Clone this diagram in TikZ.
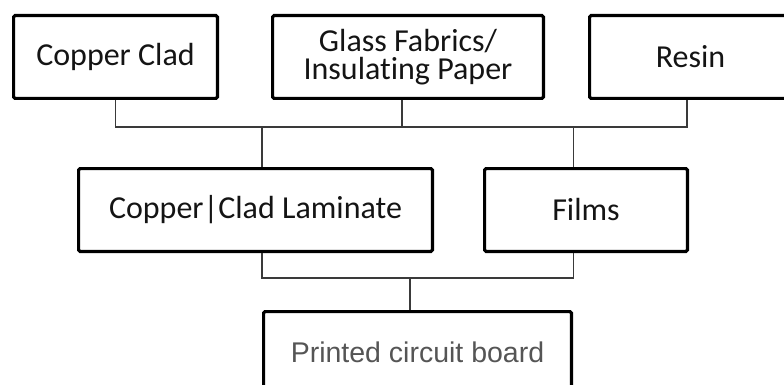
\documentclass[tikz,border=0pt]{standalone}
\usepackage{fontspec}
\setmainfont{Carlito}[Ligatures=NoCommon]
\newfontfamily\arialfont{Liberation Sans}
\usetikzlibrary{positioning}
\definecolor{wiregray}{HTML}{3A3A3A}
\definecolor{pcbgray}{HTML}{555555}
\tikzset{
      part/.style = { draw, line width=3.2pt, rounded corners=1.5pt, align=center,
                      inner sep=0pt, minimum height=82.8pt,
                      font=\fontsize{32}{28}\selectfont, text=black!92 },
   product/.style = { minimum height=80.8pt, text=pcbgray,
                      font=\arialfont\fontsize{28.5}{30}\selectfont },
      wire/.style = { wiregray, line width=1.3pt }
}

\begin{document}
\begin{tikzpicture}[x=1pt, y=-1pt]
  \useasboundingbox (0,0) rectangle (784,385);

  % raw materials
  \node[part, minimum width=203.8pt] (copper) at (115.5,57) {Copper Clad};
  \node[part, minimum width=270.8pt] (glass) at (408,57) {Glass Fabrics/\\Insulating Paper};
  \node[part, minimum width=201.8pt] (resin) at (690.5,57) {Resin};

  % intermediate
  \node[part, minimum width=353.8pt] (laminate) at (255.5,210) {Copper|Clad Laminate};
  \node[part, minimum width=202.8pt] (films) at (586,210) {Films};

  % product
  \node[part, product, minimum width=307.8pt] (pcb) at (417.5,352) {Printed circuit board};

  % joints
  \coordinate (topbus) at (0,127);
  \coordinate (lowbus) at (0,278);
  \coordinate (jl) at (262,0);
  \coordinate (jr) at (573.5,0);

  % connectors
  \draw[wire] (copper.south) -- (copper.south |- topbus)
              -- ([xshift=-3.5pt]resin.south |- topbus) -- ([xshift=-3.5pt]resin.south);
  \draw[wire] ([xshift=-6pt]glass.south) -- ([xshift=-6pt]glass.south |- topbus);
  \draw[wire] (jl |- topbus) -- (jl |- laminate.north);
  \draw[wire] (jr |- topbus) -- (jr |- films.north);
  \draw[wire] (jl |- laminate.south) -- (jl |- lowbus) -- (jr |- lowbus) -- (jr |- films.south);
  \draw[wire] ([xshift=-7.5pt]pcb.north |- lowbus) -- ([xshift=-7.5pt]pcb.north);
\end{tikzpicture}
\end{document}
